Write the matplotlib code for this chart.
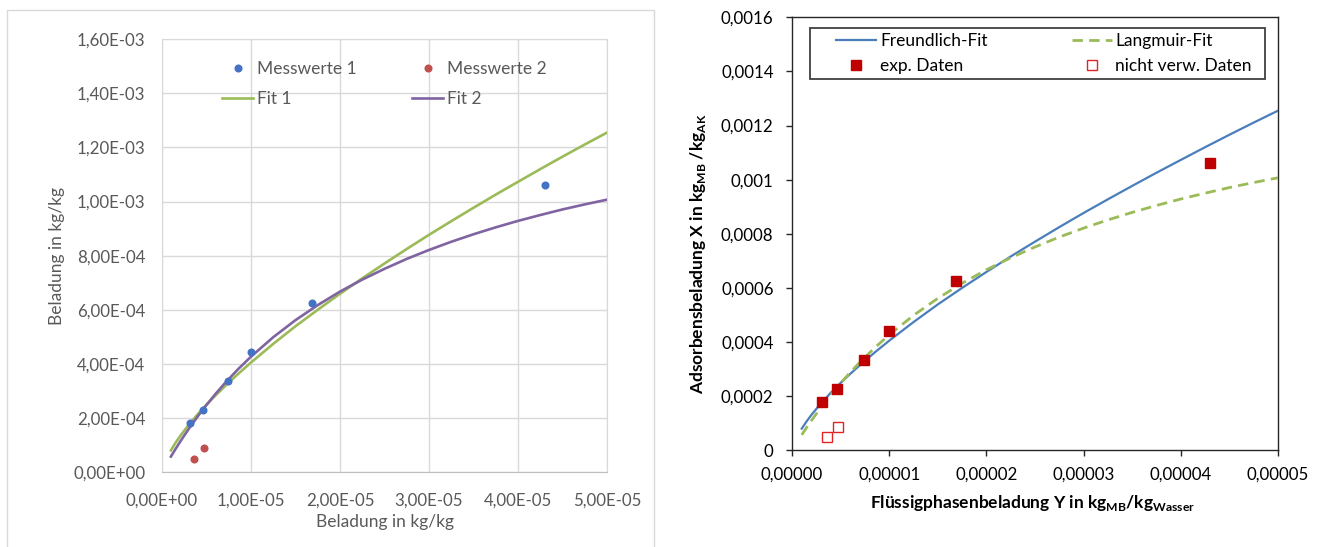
import matplotlib
matplotlib.use("Agg")
import matplotlib.pyplot as plt
from matplotlib.patches import Rectangle

plt.rcParams['font.family'] = ['Lato', 'DejaVu Sans']
plt.rcParams['mathtext.fontset'] = 'custom'
plt.rcParams['mathtext.bf'] = 'Lato:bold'
plt.rcParams['mathtext.rm'] = 'Lato'
plt.rcParams['lines.scale_dashes'] = False

# ---------------- data ----------------
meas_y = [3.1e-6, 4.6e-6, 7.4e-6, 1.0e-5, 1.69e-5, 4.3e-5]          # liquid loading Y
meas_x = [1.80e-4, 2.28e-4, 3.35e-4, 4.42e-4, 6.25e-4, 1.063e-3]     # adsorbent loading X
excl_y = [3.65e-6, 4.75e-6]
excl_x = [4.8e-5, 8.7e-5]

fit_y = [1e-6, 1.5e-6, 2e-6, 2.5e-6, 3e-6, 4e-6, 5e-6, 6e-6, 7e-6, 8.5e-6,
         1e-5, 1.25e-5, 1.5e-5, 1.75e-5, 2e-5, 2.25e-5, 2.5e-5, 2.75e-5, 3e-5,
         3.25e-5, 3.5e-5, 3.75e-5, 4e-5, 4.25e-5, 4.5e-5, 4.75e-5, 5e-5]
freundlich_x = [8.0e-5, 1.067e-4, 1.31e-4, 1.528e-4, 1.74e-4, 2.13e-4, 2.49e-4,
                2.828e-4, 3.15e-4, 3.613e-4, 4.05e-4, 4.738e-4, 5.39e-4, 6.00e-4,
                6.59e-4, 7.162e-4, 7.71e-4, 8.247e-4, 8.77e-4, 9.275e-4, 9.77e-4,
                1.0257e-3, 1.073e-3, 1.120e-3, 1.166e-3, 1.211e-3, 1.255e-3]
langmuir_x = [5.70e-5, 8.39e-5, 1.099e-4, 1.349e-4, 1.591e-4, 2.050e-4, 2.480e-4,
              2.882e-4, 3.260e-4, 3.785e-4, 4.266e-4, 4.985e-4, 5.615e-4, 6.172e-4,
              6.671e-4, 7.114e-4, 7.513e-4, 7.880e-4, 8.210e-4, 8.513e-4, 8.791e-4,
              9.047e-4, 9.285e-4, 9.502e-4, 9.709e-4, 9.895e-4, 1.007e-3]

left_xticks = [0, 1e-5, 2e-5, 3e-5, 4e-5, 5e-5]
left_xticklabels = ["0,00E+00", "1,00E-05", "2,00E-05", "3,00E-05", "4,00E-05", "5,00E-05"]
left_yticks = [0, 2e-4, 4e-4, 6e-4, 8e-4, 1e-3, 1.2e-3, 1.4e-3, 1.6e-3]
left_yticklabels = ["0,00E+00", "2,00E-04", "4,00E-04", "6,00E-04", "8,00E-04",
                    "1,00E-03", "1,20E-03", "1,40E-03", "1,60E-03"]
right_xticklabels = ["0,00000", "0,00001", "0,00002", "0,00003", "0,00004", "0,00005"]
right_yticklabels = ["0", "0,0002", "0,0004", "0,0006", "0,0008", "0,001",
                     "0,0012", "0,0014", "0,0016"]

W, H = 1325, 547
fig = plt.figure(figsize=(W / 100, H / 100), dpi=100)

def frac(l, t, r, b):
    return [l / W, 1 - b / H, (r - l) / W, (b - t) / H]

FS = 12.5
TFS = 12.2

# ---------------- left chart (Excel style) ----------------
GRAY = '#595959'
fig.patches.append(Rectangle((7.5 / W, -0.05), (654 - 7.5) / W, (H - 9.5) / H + 0.05,
                             transform=fig.transFigure, fill=False,
                             ec='#D9D9D9', lw=1.0))

ax1 = fig.add_axes(frac(162, 39.3, 607, 472))
ax1.plot(fit_y, freundlich_x, color='#9BBB59', lw=1.9, label='Fit 1', zorder=3,
         solid_joinstyle='round')
ax1.plot(fit_y, langmuir_x, color='#8064A2', lw=1.9, label='Fit 2', zorder=3,
         solid_joinstyle='round')
ax1.plot(meas_y, meas_x, 'o', color='#4472C4', ms=5.8, mec='none', label='Messwerte 1', zorder=4)
ax1.plot(excl_y, excl_x, 'o', color='#C0504D', ms=5.8, mec='none', label='Messwerte 2', zorder=4)
ax1.set_xlim(0, 5e-5)
ax1.set_ylim(0, 1.6e-3)
ax1.set_xticks(left_xticks)
ax1.set_xticklabels(left_xticklabels)
ax1.set_yticks(left_yticks)
ax1.set_yticklabels(left_yticklabels)
ax1.grid(True, color='#D9D9D9', lw=1.0)
ax1.set_axisbelow(True)
for s in ['left', 'top', 'right']:
    ax1.spines[s].set_color('#D9D9D9')
ax1.spines['bottom'].set_color('#BFBFBF')
ax1.tick_params(length=0, labelsize=TFS, colors=GRAY)
ax1.tick_params(axis='x', pad=15)
ax1.tick_params(axis='y', pad=12)
ax1.set_xlabel('Beladung in kg/kg', fontsize=FS, color=GRAY)
ax1.set_ylabel('Beladung in kg/kg', fontsize=FS, color=GRAY)
ax1.xaxis.set_label_coords(0.5, -0.115)
ax1.xaxis.label.set_va('center')
ax1.yaxis.set_label_coords(-0.236, 0.5)
ax1.yaxis.label.set_va('center')

h1 = {l.get_label(): l for l in ax1.get_lines()}
leg1 = ax1.legend([h1['Messwerte 1'], h1['Fit 1'], h1['Messwerte 2'], h1['Fit 2']],
                  ['Messwerte 1', 'Fit 1', 'Messwerte 2', 'Fit 2'],
                  ncol=2, frameon=False, fontsize=FS, labelcolor=GRAY,
                  loc='upper left', bbox_to_anchor=(0.135, 0.939, 0.73, 0.01),
                  mode='expand', borderpad=0, borderaxespad=0,
                  handlelength=1.8, handletextpad=0.23, labelspacing=0.8)

# ---------------- right chart ----------------
DARK = '#262626'
ax2 = fig.add_axes(frac(792, 17.3, 1278, 450.3))
ax2.plot(fit_y, freundlich_x, color='#4A7EBB', lw=1.6, label='Freundlich-Fit', zorder=3,
         solid_joinstyle='round')
ax2.plot(fit_y, langmuir_x, color='#9BBB59', lw=2.0, dashes=(7.5, 4.5),
         label='Langmuir-Fit', zorder=3)
ax2.plot(meas_y, meas_x, 's', color='#C00000', ms=7.4, mec='#C00000', label='exp. Daten', zorder=4)
ax2.plot(excl_y, excl_x, 's', mfc='white', mec='#E02424', mew=1.0, ms=7.0,
         label='nicht verw. Daten', zorder=4)
ax2.set_xlim(0, 5e-5)
ax2.set_ylim(0, 1.6e-3)
ax2.set_xticks(left_xticks)
ax2.set_xticklabels(right_xticklabels)
ax2.set_yticks(left_yticks)
ax2.set_yticklabels(right_yticklabels)
for s in ax2.spines.values():
    s.set_color(DARK)
    s.set_linewidth(1.0)
ax2.tick_params(direction='out', length=4.3, width=1.0, color=DARK,
                labelsize=TFS, labelcolor='black')
ax2.tick_params(axis='y', pad=9.0)
ax2.tick_params(axis='x', pad=7.5)
ax2.set_xlabel(r'Flüssigphasenbeladung Y in kg$_{\mathbf{MB}}$/kg$_{\mathbf{Wasser}}$',
               fontsize=FS, fontweight='bold')
ax2.set_ylabel(r'Adsorbensbeladung X in kg$_{\mathbf{MB}}$ /kg$_{\mathbf{AK}}$',
               fontsize=FS, fontweight='bold')
ax2.xaxis.set_label_coords(0.494, -0.122)
ax2.xaxis.label.set_va('center')
ax2.yaxis.set_label_coords(-0.193, 0.455)
ax2.yaxis.label.set_va('center')

ax2.add_patch(Rectangle((0.037, 0.8568), 0.936, 0.1178, transform=ax2.transAxes,
                        fill=False, ec='#404040', lw=1.3, zorder=5))
h2 = {l.get_label(): l for l in ax2.get_lines()}
leg2 = ax2.legend([h2['Freundlich-Fit'], h2['exp. Daten'], h2['Langmuir-Fit'], h2['nicht verw. Daten']],
                  ['Freundlich-Fit', 'exp. Daten', 'Langmuir-Fit', 'nicht verw. Daten'],
                  ncol=2, frameon=False, fontsize=FS,
                  loc='upper left', bbox_to_anchor=(0.0905, 0.953, 0.856, 0.01),
                  mode='expand', borderpad=0, borderaxespad=0,
                  handlelength=2.3, handletextpad=0.23, labelspacing=0.5)

fig.savefig('out.png', dpi=100)
